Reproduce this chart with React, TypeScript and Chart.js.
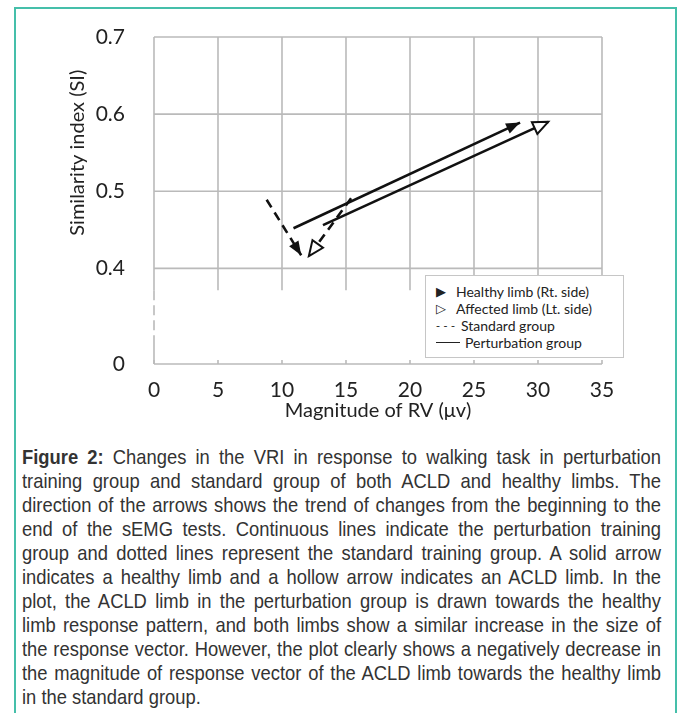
import React, { useEffect, useRef } from 'react';
import { Chart, registerables } from 'chart.js';

Chart.register(...registerables);

// ---- data ----
const xTicks = [0, 5, 10, 15, 20, 25, 30, 35];
const yTicks = [0.4, 0.5, 0.6, 0.7];
const yZeroPos = 0.276; // position on the broken axis where "0" is shown

const standardHealthyX = [8.8, 11.5];
const standardHealthyY = [0.489, 0.417];
const standardAffectedX = [15.4, 12.1];
const standardAffectedY = [0.491, 0.416];
const perturbHealthyX = [10.9, 28.6];
const perturbHealthyY = [0.452, 0.589];
const perturbAffectedX = [13.2, 30.8];
const perturbAffectedY = [0.456, 0.59];

const legendSymbols = ['▶', '▷', '- - -', ''];
const legendLabels = ['Healthy limb (Rt. side)', 'Affected limb (Lt. side)', 'Standard group', 'Perturbation group'];
const legendSymbolWidths = [20, 20, 25, 29];

const xTitle = 'Magnitude of RV (μv)';
const yTitle = 'Similarity index (SI)';

const captionLines = [
  'Changes in the VRI in response to walking task in perturbation',
  'training group and standard group of both ACLD and healthy limbs. The',
  'direction of the arrows shows the trend of changes from the beginning to the',
  'end of the sEMG tests. Continuous lines indicate the perturbation training',
  'group and dotted lines represent the standard training group. A solid arrow',
  'indicates a healthy limb and a hollow arrow indicates an ACLD limb. In the',
  'plot, the ACLD limb in the perturbation group is drawn towards the healthy',
  'limb response pattern, and both limbs show a similar increase in the size of',
  'the response vector. However, the plot clearly shows a negatively decrease in',
  'the magnitude of response vector of the ACLD limb towards the healthy limb',
  'in the standard group.',
];

const GRID = '#bababa';
const INK = '#111111';
const FONT = 'Lato, "Open Sans", sans-serif';
const SCALE_X = 0.875;

const pts = (xs: number[], ys: number[]) => xs.map((x, i) => ({ x, y: ys[i] }));

const gridPlugin = {
  id: 'brokenGrid',
  beforeDatasetsDraw(chart: any) {
    const { ctx, scales } = chart;
    const xs = scales.x;
    const ys = scales.y;
    const top = ys.getPixelForValue(0.7);
    const gridBottom = ys.getPixelForValue(0.4) + 22;
    const bottom = ys.getPixelForValue(yZeroPos);
    const x0 = xs.getPixelForValue(0);
    const x1 = xs.getPixelForValue(35);
    const line = (a: number, b: number, c: number, d: number) => {
      ctx.beginPath();
      ctx.moveTo(a, b);
      ctx.lineTo(c, d);
      ctx.stroke();
    };
    ctx.save();
    ctx.strokeStyle = GRID;
    ctx.lineWidth = 1.6;
    yTicks.forEach((v) => {
      const py = ys.getPixelForValue(v);
      line(x0, py, x1, py);
    });
    xTicks.forEach((v) => {
      const px = xs.getPixelForValue(v);
      line(px, top, px, gridBottom);
    });
    // broken y axis
    ctx.setLineDash([10, 5]);
    line(x0, gridBottom, x0, bottom - 26);
    ctx.setLineDash([]);
    line(x0, bottom - 26, x0, bottom);
    // x axis with small ticks
    line(x0, bottom, x1, bottom);
    xTicks.forEach((v) => {
      const px = xs.getPixelForValue(v);
      line(px, bottom, px, bottom - 4);
    });
    ctx.restore();
  },
  afterDatasetsDraw(chart: any) {
    const { ctx } = chart;
    chart.data.datasets.forEach((ds: any, i: number) => {
      const meta = chart.getDatasetMeta(i);
      const p0 = meta.data[0];
      const p1 = meta.data[1];
      if (!p0 || !p1) return;
      const ang = Math.atan2(p1.y - p0.y, p1.x - p0.x);
      const L = ds.head === 'hollow' ? 15 : 14;
      const W = ds.head === 'hollow' ? 6.5 : 5.5;
      ctx.save();
      ctx.translate(p1.x, p1.y);
      ctx.rotate(ang);
      ctx.beginPath();
      ctx.moveTo(0, 0);
      ctx.lineTo(-L, -W);
      ctx.lineTo(-L, W);
      ctx.closePath();
      if (ds.head === 'hollow') {
        ctx.fillStyle = '#ffffff';
        ctx.fill();
        ctx.strokeStyle = INK;
        ctx.lineWidth = 2;
        ctx.lineJoin = 'miter';
        ctx.stroke();
      } else {
        ctx.fillStyle = INK;
        ctx.fill();
      }
      ctx.restore();
    });
  },
  afterDraw(chart: any) {
    const { ctx, scales, chartArea } = chart;
    ctx.save();
    ctx.fillStyle = '#222222';
    ctx.font = `20px ${FONT}`;
    ctx.textAlign = 'center';
    ctx.textBaseline = 'middle';
    ctx.fillText(xTitle, (chartArea.left + chartArea.right) / 2, 411);
    const cy = (scales.y.getPixelForValue(0.5) + scales.y.getPixelForValue(0.6)) / 2;
    ctx.translate(78, cy);
    ctx.rotate(-Math.PI / 2);
    ctx.fillText(yTitle, 0, 0);
    ctx.restore();
  },
};

function ChartView() {
  const ref = useRef<HTMLCanvasElement | null>(null);
  useEffect(() => {
    if (!ref.current) return;
    const line = (data: any, dashed: boolean, head: string) => ({
      data,
      borderColor: INK,
      borderWidth: 2.6,
      borderDash: dashed ? [9, 6] : [],
      pointRadius: 0,
      fill: false,
      head,
    });
    const chart = new Chart(ref.current, {
      type: 'line',
      data: {
        datasets: [
          line(pts(standardHealthyX, standardHealthyY), true, 'filled'),
          line(pts(standardAffectedX, standardAffectedY), true, 'hollow'),
          line(pts(perturbHealthyX, perturbHealthyY), false, 'filled'),
          line(pts(perturbAffectedX, perturbAffectedY), false, 'hollow'),
        ] as any,
      },
      options: {
        animation: false,
        responsive: false,
        devicePixelRatio: 1,
        layout: { padding: { left: 0, right: 79, top: 37, bottom: 0 } },
        plugins: { legend: { display: false }, tooltip: { enabled: false } },
        scales: {
          x: {
            type: 'linear',
            min: 0,
            max: 35,
            grid: { display: false },
            border: { display: false },
            afterBuildTicks: (s: any) => {
              s.ticks = xTicks.map((v) => ({ value: v }));
            },
            afterFit: (s: any) => {
              s.height = 66;
            },
            ticks: {
              padding: 6,
              color: '#222222',
              font: { family: FONT, size: 21 },
              maxRotation: 0,
            },
          },
          y: {
            type: 'linear',
            min: yZeroPos,
            max: 0.7,
            grid: { display: false },
            border: { display: false },
            afterBuildTicks: (s: any) => {
              s.ticks = [yZeroPos, ...yTicks].map((v) => ({ value: v }));
            },
            afterFit: (s: any) => {
              s.width = 154;
            },
            ticks: {
              padding: 21,
              color: '#222222',
              font: { family: FONT, size: 21 },
              callback: (v: any) => (Number(v) < 0.3 ? '0' : Number(v).toFixed(1)),
            },
          },
        },
      } as any,
      plugins: [gridPlugin],
    });
    return () => chart.destroy();
  }, []);
  return (
    <canvas
      ref={ref}
      width={681}
      height={430}
      style={{ position: 'absolute', left: 0, top: 0, width: 681, height: 430 }}
    />
  );
}

export default function App() {
  return (
    <div style={{ position: 'absolute', left: 0, top: 0, width: 681, height: 713, overflow: 'hidden', background: '#fff' }}>
      <div
        style={{
          position: 'absolute',
          left: 14,
          top: 7,
          width: 663,
          height: 740,
          border: '2px solid #45bfaa',
          boxSizing: 'border-box',
        }}
      />
      <ChartView />
      <div
        style={{
          position: 'absolute',
          left: 425,
          top: 275,
          width: 199,
          height: 83,
          boxSizing: 'border-box',
          border: '1px solid #c6c6c6',
          background: '#fff',
          fontFamily: FONT,
          fontSize: 14,
          color: '#222',
          paddingTop: 7,
          paddingLeft: 10,
          lineHeight: '17px',
          whiteSpace: 'nowrap',
        }}
      >
        {legendLabels.map((t, i) => (
          <div key={t} style={{ display: 'flex', alignItems: 'center' }}>
            {i === 3 ? (
              <span style={{ display: 'inline-block', width: 24, height: 1.5, background: '#222', marginRight: 5 }} />
            ) : (
              <span
                style={{
                  display: 'inline-block',
                  width: legendSymbolWidths[i],
                  fontFamily: '"DejaVu Sans", sans-serif',
                  fontSize: i < 2 ? 13 : 11,
                }}
              >
                {legendSymbols[i]}
              </span>
            )}
            <span>{t}</span>
          </div>
        ))}
      </div>
      <div
        style={{
          position: 'absolute',
          left: 22,
          top: 445,
          width: 639 / SCALE_X,
          transform: `scaleX(${SCALE_X})`,
          transformOrigin: '0 0',
          fontFamily: '"Liberation Sans", Arial, sans-serif',
          fontSize: 21,
          lineHeight: '24px',
          color: '#333',
        }}
      >
        {captionLines.map((t, i) => (
          <div
            key={i}
            style={{
              textAlign: 'justify',
              textAlignLast: i === captionLines.length - 1 ? 'left' : 'justify',
              whiteSpace: 'nowrap',
            } as any}
          >
            {i === 0 ? <b>Figure 2: </b> : null}
            {t}
          </div>
        ))}
      </div>
    </div>
  );
}
